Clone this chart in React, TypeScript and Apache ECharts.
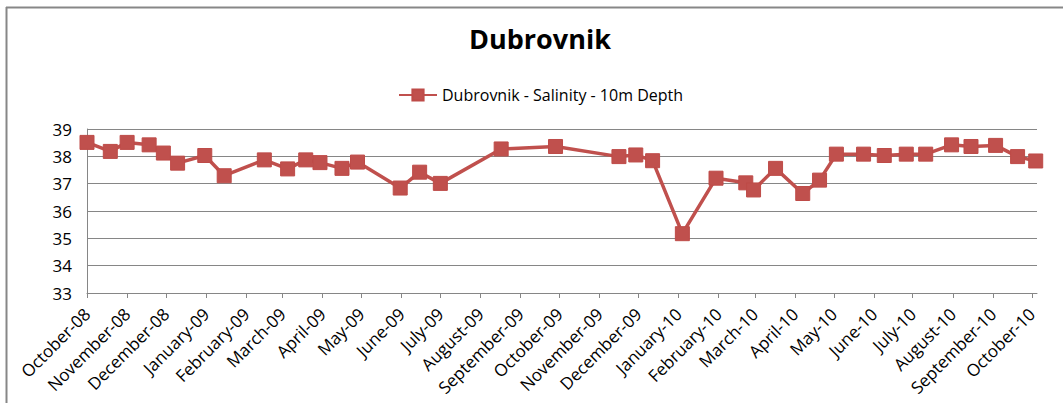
import React, { useEffect, useRef } from "react";
import * as echarts from "echarts";

const sampleDates: string[] = [
  "2008-10-01", "2008-10-19", "2008-11-01", "2008-11-18", "2008-11-29", "2008-12-10",
  "2008-12-31", "2009-01-15", "2009-02-15", "2009-03-05", "2009-03-19", "2009-03-30",
  "2009-04-16", "2009-04-28", "2009-05-31", "2009-06-15", "2009-07-01", "2009-08-17",
  "2009-09-28", "2009-11-16", "2009-11-29", "2009-12-12", "2010-01-04", "2010-01-30",
  "2010-02-22", "2010-02-28", "2010-03-17", "2010-04-07", "2010-04-20", "2010-05-03",
  "2010-05-24", "2010-06-09", "2010-06-26", "2010-07-11", "2010-07-31", "2010-08-15",
  "2010-09-03", "2010-09-20", "2010-10-04",
];

const salinity: number[] = [
  38.51, 38.18, 38.51, 38.42, 38.12, 37.75,
  38.03, 37.29, 37.87, 37.54, 37.87, 37.77,
  37.56, 37.79, 36.84, 37.42, 37.01, 38.27,
  38.36, 37.99, 38.05, 37.84, 35.17, 37.2,
  37.03, 36.77, 37.56, 36.64, 37.13, 38.08,
  38.08, 38.03, 38.08, 38.08, 38.42, 38.36,
  38.4, 37.99, 37.83,
];

const monthNames: string[] = [
  "January", "February", "March", "April", "May", "June",
  "July", "August", "September", "October", "November", "December",
];

const axisStart = "2008-10-01";
const axisEnd = "2010-10-05";
const yMin = 33;
const yMax = 39;

const seriesName = "Dubrovnik - Salinity - 10m Depth";
const titleText = "Dubrovnik";

function toLocal(s: string): number {
  const [y, m, d] = s.split("-").map(Number);
  return new Date(y, m - 1, d).getTime();
}

export default function App() {
  const ref = useRef<HTMLDivElement>(null);

  useEffect(() => {
    if (!ref.current) return;
    const chart = echarts.init(ref.current, undefined, { renderer: "svg" });
    const font = "'Open Sans', 'Noto Sans', sans-serif";
    const data = sampleDates.map((d, i) => [toLocal(d), salinity[i]]);
    chart.setOption({
      animation: false,
      backgroundColor: "#ffffff",
      textStyle: { fontFamily: font },
      title: {
        text: titleText,
        left: 464,
        top: 20,
        textStyle: { fontFamily: font, fontSize: 27, fontWeight: "bold", color: "#000" },
      },
      legend: {
        left: 393,
        top: 82,
        itemWidth: 38,
        itemHeight: 14,
        itemGap: 4,
        textStyle: { fontFamily: font, fontSize: 16, color: "#000" },
        data: [seriesName],
      },
      graphic: [
        {
          type: "line",
          shape: { x1: 6, y1: 7.5, x2: 1063, y2: 7.5 },
          style: { stroke: "#878787", lineWidth: 2 },
          silent: true,
        },
        {
          type: "line",
          shape: { x1: 6.5, y1: 7, x2: 6.5, y2: 403 },
          style: { stroke: "#878787", lineWidth: 2 },
          silent: true,
        },
      ],
      grid: { left: 87, right: 26, top: 129, bottom: 110, containLabel: false },
      xAxis: {
        type: "time",
        min: toLocal(axisStart),
        max: toLocal(axisEnd),
        minInterval: 28 * 86400000,
        maxInterval: 31 * 86400000,
        splitLine: { show: false },
        axisLine: { lineStyle: { color: "#868686", width: 1 } },
        axisTick: { show: true, length: 5, lineStyle: { color: "#868686" } },
        axisLabel: {
          rotate: 45,
          fontFamily: font,
          fontSize: 17,
          color: "#000",
          margin: 18,
          showMinLabel: true,
          showMaxLabel: false,
          hideOverlap: false,
          formatter: (v: number) => {
            const d = new Date(v);
            if (d.getDate() !== 1) return "";
            const yy = String(d.getFullYear() % 100).padStart(2, "0");
            return monthNames[d.getMonth()] + "-" + yy;
          },
        },
      },
      yAxis: {
        type: "value",
        min: yMin,
        max: yMax,
        interval: 1,
        axisLine: { show: true, lineStyle: { color: "#868686", width: 1 } },
        axisTick: { show: false },
        splitLine: { lineStyle: { color: "#868686", width: 1 } },
        axisLabel: { fontFamily: font, fontSize: 17, color: "#000", margin: 15 },
      },
      series: [
        {
          name: seriesName,
          type: "line",
          data,
          symbol: "rect",
          symbolSize: 14,
          lineStyle: { color: "#C0504D", width: 3.5 },
          itemStyle: { color: "#C0504D", borderColor: "#BE4B48", borderWidth: 1 },
        },
      ],
    });
    return () => chart.dispose();
  }, []);

  return (
    <div
      ref={ref}
      style={{ position: "fixed", left: 0, top: 0, width: 1063, height: 403 }}
    />
  );
}
